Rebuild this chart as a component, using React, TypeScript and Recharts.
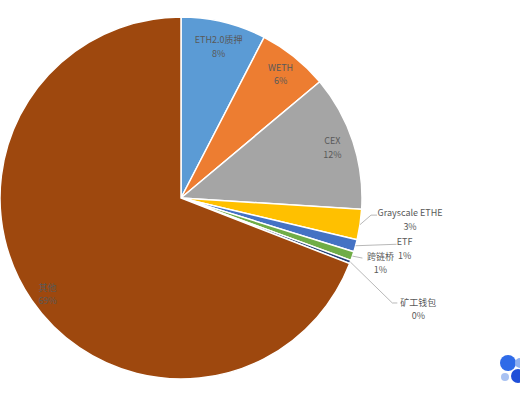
import React from 'react';
import { PieChart, Pie, Cell } from 'recharts';

const names = ['ETH2.0质押', 'WETH', 'CEX', 'Grayscale ETHE', 'ETF', '跨链桥', '矿工钱包', '其他'];
const shares = [7.6, 6.3, 12.1, 2.7, 1.1, 0.8, 0.3, 69.1];
const colors = ['#5B9BD5', '#ED7D31', '#A5A5A5', '#FFC000', '#4472C4', '#70AD47', '#264478', '#9E480E'];

const data = names.map((n, i) => ({ name: n, value: shares[i] }));

// leader-line / label offsets relative to the slice's outer mid point (layout only)
const outsideLayout: Record<number, { pts: [number, number][]; t1: [number, number]; t2: [number, number] }> = {
  3: { pts: [[11, -9.5], [17, -9.5]], t1: [50, -12.5], t2: [50, 1.5] },
  4: { pts: [[41, -1.5]], t1: [49, -4.5], t2: [49, 9.5] },
  5: { pts: [[10, 2]], t1: [28, 0], t2: [28, 13] },
  6: { pts: [[42, 41], [47, 41]], t1: [68, 41], t2: [68, 54] },
};
// small nudges for inside labels (layout only)
const insideNudge: Record<number, [number, number]> = {
  0: [0, 3],
  2: [0, -1],
  7: [-2, 6],
};

const FONT = '"Noto Sans CJK SC", "Noto Sans", sans-serif';
const TXT = '#595959';

const renderLabel = (p: any) => {
  const { cx, cy, midAngle, outerRadius, percent, index } = p;
  const RAD = Math.PI / 180;
  const pct = Math.round(percent * 100) + '%';
  const cos = Math.cos(-midAngle * RAD);
  const sin = Math.sin(-midAngle * RAD);
  const lay = outsideLayout[index];
  if (lay) {
    const ex = cx + outerRadius * cos;
    const ey = cy + outerRadius * sin;
    const pts = [[ex, ey], ...lay.pts.map(([dx, dy]) => [ex + dx, ey + dy])];
    return (
      <g key={`lbl-${index}`}>
        <polyline points={pts.map((q) => q.join(',')).join(' ')} fill="none" stroke="#A6A6A6" strokeWidth={0.8} />
        <text x={ex + lay.t1[0]} y={ey + lay.t1[1]} textAnchor="middle" dominantBaseline="central" fontSize={9} fill={TXT} fontFamily={FONT}>{names[index]}</text>
        <text x={ex + lay.t2[0]} y={ey + lay.t2[1]} textAnchor="middle" dominantBaseline="central" fontSize={9} fill={TXT} fontFamily={FONT}>{pct}</text>
      </g>
    );
  }
  const r = outerRadius * 0.88;
  const [nx, ny] = insideNudge[index] || [0, 0];
  const x = cx + r * cos + nx;
  const y = cy + r * sin + ny;
  return (
    <g key={`lbl-${index}`}>
      <text x={x} y={y - 6.5} textAnchor="middle" dominantBaseline="central" fontSize={9} fill={TXT} fontFamily={FONT}>{names[index]}</text>
      <text x={x} y={y + 7} textAnchor="middle" dominantBaseline="central" fontSize={9} fill={TXT} fontFamily={FONT}>{pct}</text>
    </g>
  );
};

export default function App() {
  return (
    <div style={{ position: 'absolute', left: 0, top: 0, width: 520, height: 400, background: '#fff' }}>
      <PieChart width={520} height={400} margin={{ top: 0, right: 0, bottom: 0, left: 0 }}>
        <Pie
          data={data}
          dataKey="value"
          nameKey="name"
          cx={181}
          cy={198}
          outerRadius={181}
          startAngle={90}
          endAngle={-270}
          stroke="#FFFFFF"
          strokeWidth={1.5}
          label={renderLabel}
          labelLine={false}
          isAnimationActive={false}
        >
          {data.map((d, i) => (
            <Cell key={d.name} fill={colors[i]} />
          ))}
        </Pie>
      </PieChart>
      <div style={{ position: 'absolute', left: 500, top: 355, width: 16, height: 16, borderRadius: 8, background: '#2F6BE8' }} />
      <div style={{ position: 'absolute', left: 515, top: 358, width: 10, height: 10, borderRadius: 5, background: '#8FB0F0' }} />
      <div style={{ position: 'absolute', left: 501, top: 373, width: 8, height: 8, borderRadius: 4, background: '#A9C2F2' }} />
      <div style={{ position: 'absolute', left: 511, top: 369, width: 14, height: 14, borderRadius: 7, background: '#1F4FD8' }} />
    </div>
  );
}
